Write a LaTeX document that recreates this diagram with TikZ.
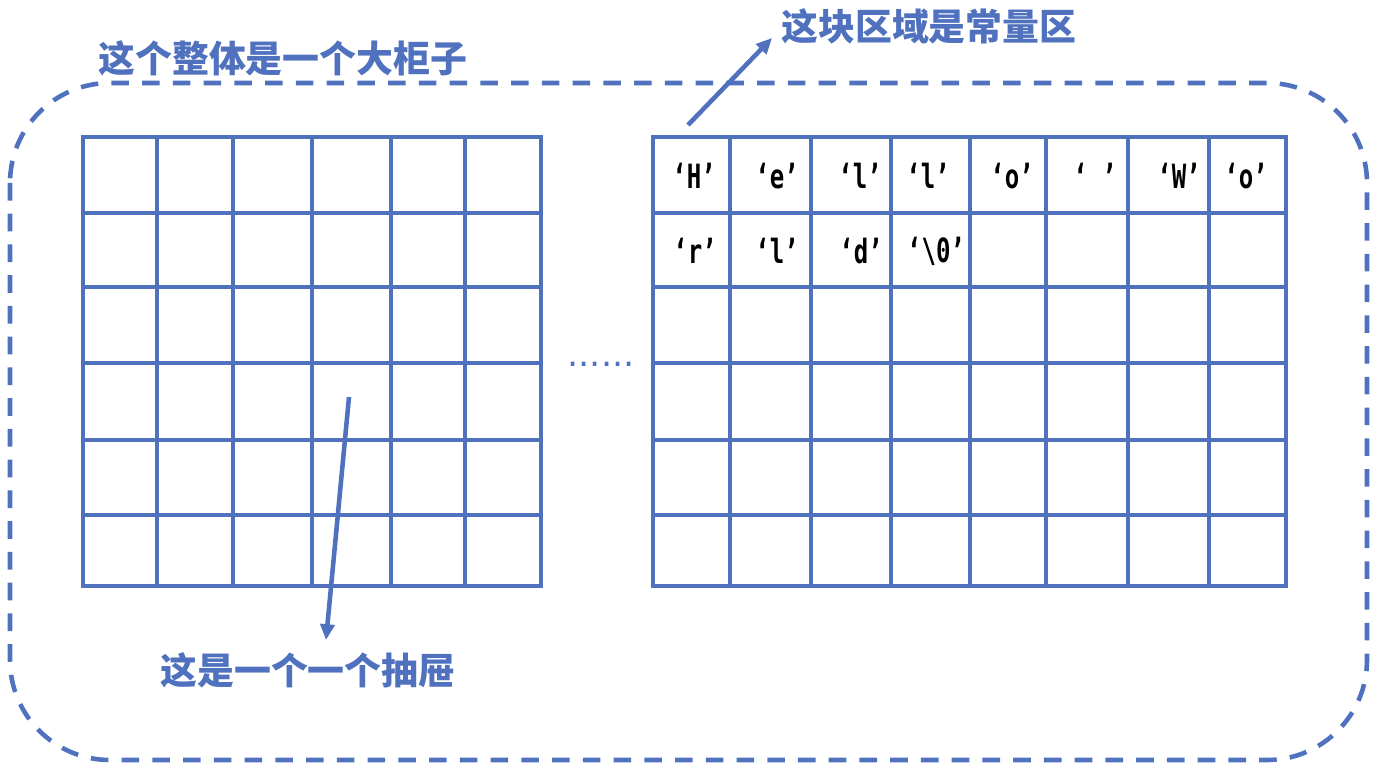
\documentclass[tikz,border=0pt]{standalone}
\usepackage{fontspec}
\usetikzlibrary{arrows.meta}
\newfontfamily\cjk{Noto Sans CJK SC}
\newfontfamily\cellfont[FakeStretch=0.72]{DejaVu Sans Mono}
\newfontfamily\dotfont{DejaVu Sans}
\definecolor{cabblue}{RGB}{79,113,190}
\tikzset{
    gridline/.style={draw=cabblue, line width=2.8pt},
    cabinet/.style={draw=cabblue, line width=2.6pt, dash pattern=on 10pt off 7.5pt, rounded corners=2cm},
    pointer/.style={draw=cabblue, line width=2.6pt, -{Triangle[length=9pt,width=8pt]}},
    bluelabel/.style={text=cabblue, font=\cjk\bfseries\fontsize{21}{21}\selectfont, inner sep=0pt, anchor=west},
    chartext/.style={font=\cellfont\bfseries\fontsize{19}{19}\selectfont, inner sep=0pt},
}
\begin{document}
\begin{tikzpicture}[x=0.02cm, y=-0.02cm]
    \useasboundingbox (0,0) rectangle (1380,772);
    % the big cabinet
    \draw[cabinet] (10,83) rectangle (1367,760);
    \node[bluelabel] (cablabel) at (98,58) {这个整体是一个大柜子};
    % left block of drawers
    \draw[gridline] (83,137) rectangle (541,586);
    \foreach \x in {157,233,312,391,465}
        \draw[gridline] (\x,137) -- (\x,586);
    \foreach \y in {213,287,363,440,515}
        \draw[gridline] (83,\y) -- (541,\y);
    % right block: constant area
    \draw[gridline] (653,137) rectangle (1286,586);
    \foreach \x in {730,811,891,970,1046,1128,1209}
        \draw[gridline] (\x,137) -- (\x,586);
    \foreach \y in {213,287,363,440,515}
        \draw[gridline] (653,\y) -- (1286,\y);
    \node[text=cabblue, font=\dotfont\fontsize{20}{20}\selectfont, anchor=base, inner sep=0pt] (dots) at (601,366) {......};
    % characters of the string
    \foreach \x/\c [count=\i] in {694/H,777/e,860/l,928/l,1012/o,1095/~,1179/W,1246/o}
        \node[chartext] (top-\i) at (\x,176) {‘\c’};
    \foreach \x/\c [count=\i] in {695/r,777/l,861/d,936/\textbackslash 0}
        \node[chartext] (bot-\i) at (\x,251) {‘\c’};
    % pointers
    \node[bluelabel] (constlabel) at (781,26) {这块区域是常量区};
    \coordinate (constfrom) at (688,125);
    \coordinate (constto) at (772,38);
    \draw[pointer] (constfrom) -- (constto);
    \node[bluelabel] (drawerlabel) at (160,670) {这是一个一个抽屉};
    \coordinate (drawerfrom) at (349,397);
    \coordinate (drawerto) at (326,640);
    \draw[pointer] (drawerfrom) -- (drawerto);
\end{tikzpicture}
\end{document}
